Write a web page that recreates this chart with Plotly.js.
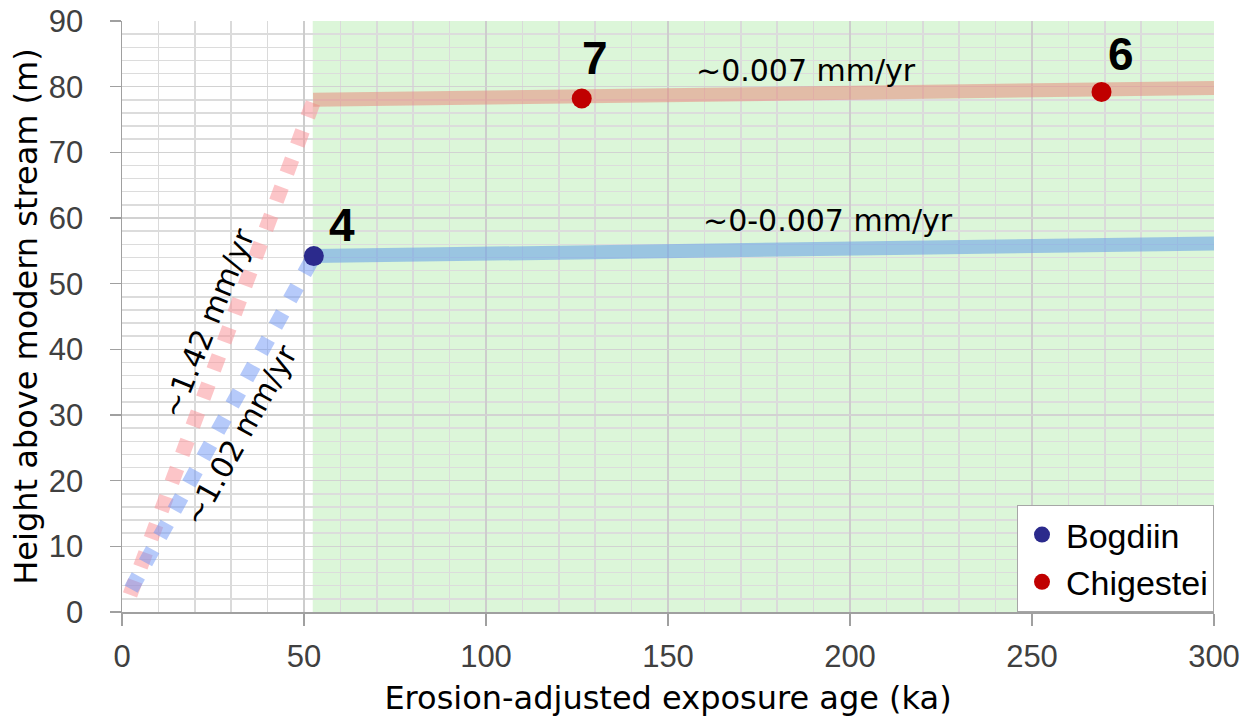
<!DOCTYPE html>
<html>
<head>
<meta charset="utf-8">
<script src="https://cdn.plot.ly/plotly-3.0.1.min.js"></script>
<style>html,body{margin:0;padding:0;background:#fff;}#chart{width:1256px;height:721px;}</style>
</head>
<body>
<div id="chart"></div>
<script>
// ---- data ----
const bogdiinAge = [52.7];
const bogdiinHeight = [54.2];
const bogdiinLabels = ['4'];
const bogdiinLabelX = [60.4];
const bogdiinLabelY = [58.9];

const chigesteiAge = [126.3, 269.1];
const chigesteiHeight = [78.2, 79.2];
const chigesteiLabels = ['7', '6'];
const chigesteiLabelX = [130.0, 274.5];
const chigesteiLabelY = [84.4, 84.9];

// incision-rate guide lines (ka, m)
const bogdiinRiseAge = [2.5, 52.7];
const bogdiinRiseHeight = [3.5, 54.2];
const chigesteiRiseAge = [2.2, 52.5];
const chigesteiRiseHeight = [2.6, 77.6];

const bogdiinTrendAge = [52.5, 300];
const bogdiinTrendHeight = [54.2, 56.1];
const chigesteiTrendAge = [52.5, 300];
const chigesteiTrendHeight = [78.0, 79.8];

const greenZone = [52.4, 300];

const xTitle = 'Erosion-adjusted exposure age (ka)';
const yTitle = 'Height above modern stream (m)';

const rateLabels = ['~1.42 mm/yr', '~1.02 mm/yr', '~0.007 mm/yr', '~0-0.007 mm/yr'];
const rateX = [23.6, 32.6, 188, 194];
const rateY = [44.1, 27.0, 82.4, 59.6];
const rateAngle = [-68, -61, 0, 0];

const traces = [
  {x: chigesteiRiseAge, y: chigesteiRiseHeight, mode: 'lines', showlegend: false, hoverinfo: 'skip',
   line: {color: 'rgba(250,150,155,0.55)', width: 15, dash: '15px,15px'}},
  {x: bogdiinRiseAge, y: bogdiinRiseHeight, mode: 'lines', showlegend: false, hoverinfo: 'skip',
   line: {color: 'rgba(110,150,245,0.5)', width: 15, dash: '15px,15px'}},
  {x: chigesteiTrendAge, y: chigesteiTrendHeight, mode: 'lines', showlegend: false, hoverinfo: 'skip',
   line: {color: 'rgba(232,140,125,0.55)', width: 14}},
  {x: bogdiinTrendAge, y: bogdiinTrendHeight, mode: 'lines', showlegend: false, hoverinfo: 'skip',
   line: {color: 'rgba(110,165,230,0.6)', width: 14}},
  {x: bogdiinAge, y: bogdiinHeight, mode: 'markers', name: 'Bogdiin',
   marker: {color: '#2b2a8c', size: 20}},
  {x: chigesteiAge, y: chigesteiHeight, mode: 'markers', name: 'Chigestei',
   marker: {color: '#c00000', size: 20}}
];

const annotations = [];
function addLabels(xs, ys, labels) {
  for (let i = 0; i < xs.length; i++) {
    annotations.push({x: xs[i], y: ys[i], xref: 'x', yref: 'y', text: '<b>' + labels[i] + '</b>',
      showarrow: false, font: {family: 'Liberation Sans, Arial', size: 46, color: '#000'}});
  }
}
addLabels(bogdiinLabelX, bogdiinLabelY, bogdiinLabels);
addLabels(chigesteiLabelX, chigesteiLabelY, chigesteiLabels);
for (let i = 0; i < rateLabels.length; i++) {
  annotations.push({x: rateX[i], y: rateY[i], xref: 'x', yref: 'y', text: rateLabels[i], showarrow: false,
    textangle: rateAngle[i], font: {family: 'DejaVu Sans', size: 30, color: '#000'}});
}

const tickFont = {family: 'Liberation Sans, Arial', size: 31, color: '#404040'};
const layout = {
  width: 1256, height: 721,
  margin: {l: 122, r: 42, t: 21, b: 109},
  paper_bgcolor: '#fff', plot_bgcolor: '#fff',
  showlegend: true,
  legend: {x: 1, y: 0, xanchor: 'right', yanchor: 'bottom', bgcolor: '#fff', bordercolor: '#a6a6a6', borderwidth: 1,
    font: {family: 'Liberation Sans, Arial', size: 34, color: '#000'}, tracegroupgap: 0, itemwidth: 38},
  xaxis: {range: [0, 300], dtick: 50, tick0: 0, showline: true, linecolor: '#a0a0a0', linewidth: 1.5,
    ticks: 'outside', ticklen: 12, tickcolor: '#a0a0a0', tickwidth: 1.5, ticklabelstandoff: 4,
    showgrid: true, gridcolor: '#cdcdcd', gridwidth: 1.5, zeroline: false, tickfont: tickFont,
    minor: {dtick: 10, showgrid: true, gridcolor: '#dadada', gridwidth: 1.5},
    title: {text: xTitle, font: {family: 'DejaVu Sans', size: 32, color: '#000'}, standoff: 14}},
  yaxis: {range: [0, 90], dtick: 10, tick0: 0, showline: true, linecolor: '#a0a0a0', linewidth: 1.5,
    ticks: 'outside', ticklen: 11, tickcolor: '#a0a0a0', tickwidth: 1.5, ticklabelstandoff: 20,
    showgrid: true, gridcolor: '#d2d2d2', gridwidth: 1.5, zeroline: false, tickfont: tickFont,
    minor: {dtick: 2, showgrid: true, gridcolor: '#dcdcdc', gridwidth: 1.5},
    title: {text: yTitle, font: {family: 'DejaVu Sans', size: 32, color: '#000'}, standoff: 1}},
  shapes: [
    {type: 'rect', xref: 'x', yref: 'paper', x0: greenZone[0], x1: greenZone[1], y0: 0, y1: 1,
     fillcolor: 'rgba(150,228,140,0.33)', line: {width: 0}, layer: 'between'}
  ],
  annotations: annotations
};

Plotly.newPlot('chart', traces, layout, {displayModeBar: false, staticPlot: true});
</script>
</body>
</html>
